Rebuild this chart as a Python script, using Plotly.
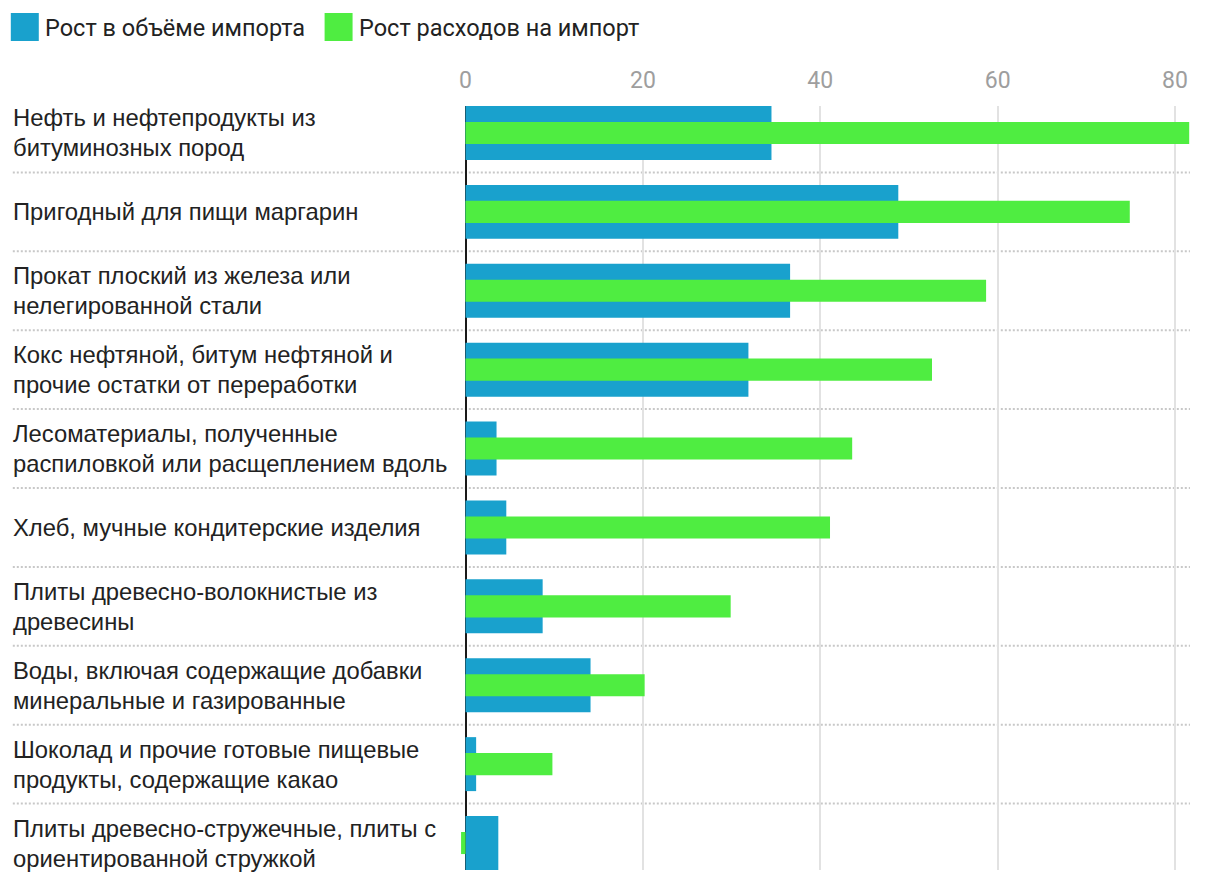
import plotly.graph_objects as go

categories = [
    "Нефть и нефтепродукты из\nбитуминозных пород",
    "Пригодный для пищи маргарин",
    "Прокат плоский из железа или\nнелегированной стали",
    "Кокс нефтяной, битум нефтяной и\nпрочие остатки от переработки",
    "Лесоматериалы, полученные\nраспиловкой или расщеплением вдоль",
    "Хлеб, мучные кондитерские изделия",
    "Плиты древесно-волокнистые из\nдревесины",
    "Воды, включая содержащие добавки\nминеральные и газированные",
    "Шоколад и прочие готовые пищевые\nпродукты, содержащие какао",
    "Плиты древесно-стружечные, плиты с\nориентированной стружкой",
]
volume_growth = [34.5, 48.8, 36.6, 31.9, 3.5, 4.6, 8.7, 14.1, 1.2, 3.7]
spend_growth = [81.6, 74.9, 58.7, 52.6, 43.6, 41.1, 29.9, 20.2, 9.8, -0.5]
series_names = ["Рост в объёме импорта", "Рост расходов на импорт"]
tick_vals = [0, 20, 40, 60, 80]

BLUE = "#19a1cd"
GREEN = "#4fed41"

OFF = 8  # page body margin
W, H = 1220, 882
ML, MR, MT, MB = 451.5, 38, 98, 20
PW, PH = W - ML - MR, H - MT - MB

def px_x(x):
    return (x - OFF - ML) / PW

def px_y(y):
    return 1 - (y - OFF - MT) / PH

ypos = list(range(len(categories)))

fig = go.Figure()
fig.add_trace(go.Bar(
    y=ypos, x=volume_growth, orientation="h", width=0.684,
    marker=dict(color=BLUE, line=dict(width=0)), name=series_names[0],
))
fig.add_trace(go.Bar(
    y=ypos, x=spend_growth, orientation="h", width=0.28,
    marker=dict(color=GREEN, line=dict(width=0)), name=series_names[1],
))

shapes = []
annotations = []
n = len(categories)
for k in range(n - 1):
    shapes.append(dict(type="line", xref="paper", yref="y",
                       x0=px_x(12), x1=px_x(1190), y0=k + 0.5, y1=k + 0.5,
                       line=dict(color="#c8c8c8", width=2, dash="2px,2px"), layer="below"))

for i, lab in enumerate(categories):
    lines = lab.split("\n")
    m = len(lines)
    for j, ln in enumerate(lines):
        shift = ((m - 1) / 2 - j) * 30
        annotations.append(dict(
            x=px_x(12), y=i, xref="paper", yref="y", text=ln, showarrow=False,
            xanchor="left", yanchor="middle", yshift=shift, xshift=-2,
            font=dict(family="Liberation Sans, Arial, sans-serif", size=23.8, color="#222222"),
        ))

# legend (manual)
legend_items = [(10, BLUE, series_names[0]), (324, GREEN, series_names[1])]
for x0, col, name in legend_items:
    shapes.append(dict(type="rect", xref="paper", yref="paper",
                       x0=px_x(x0), x1=px_x(x0 + 28), y0=px_y(41), y1=px_y(13),
                       fillcolor=col, line=dict(width=0)))
    annotations.append(dict(x=px_x(x0 + 34), y=px_y(28), xref="paper", yref="paper",
                            text=name, showarrow=False, xanchor="left", yanchor="middle",
                            xshift=-2,
                            font=dict(family="Roboto, sans-serif", size=23.5, color="#222222")))

fig.update_layout(
    width=W, height=H, autosize=False,
    margin=dict(l=ML, r=MR, t=MT, b=MB),
    paper_bgcolor="white", plot_bgcolor="white",
    barmode="overlay", showlegend=False,
    shapes=shapes, annotations=annotations,
    xaxis=dict(side="top", range=[-0.62, 81.69], tickvals=tick_vals,
               showgrid=True, gridcolor="#e2e2e2", gridwidth=2,
               zeroline=True, zerolinecolor="#1a1a1a", zerolinewidth=2,
               ticks="", showline=False, ticklabelstandoff=12,
               tickfont=dict(family="Roboto, sans-serif", size=23, color="#9e9e9e")),
    yaxis=dict(range=[n - 1 + 0.342, -0.342], showticklabels=False, showgrid=False,
               zeroline=False, ticks="", showline=False),
)

fig.write_html("out.html")
